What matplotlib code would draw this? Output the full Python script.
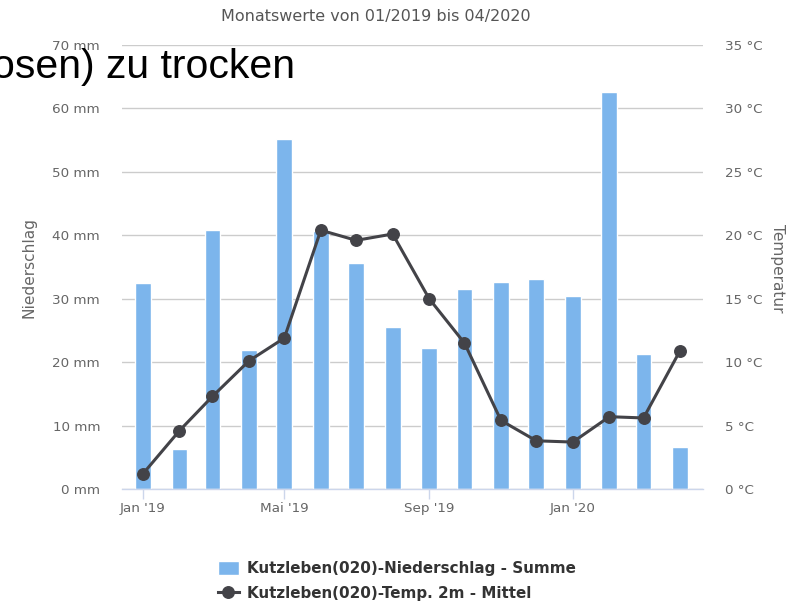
import matplotlib
matplotlib.use("Agg")
import matplotlib.pyplot as plt
import pandas as pd

# Monthly values Kutzleben, 01/2019 - 04/2020
months = pd.date_range("2019-01-01", "2020-04-01", freq="MS")
niederschlag = [32.4, 6.3, 40.8, 21.9, 55.2, 40.6, 35.7, 25.6,
                22.2, 31.6, 32.7, 33.1, 30.5, 62.6, 21.3, 6.7]
temperatur = [1.2, 4.6, 7.3, 10.1, 11.9, 20.4, 19.6, 20.1,
              15.0, 11.5, 5.4, 3.8, 3.7, 5.7, 5.6, 10.9]

tick_dates = pd.to_datetime(["2019-01-01", "2019-05-01", "2019-09-01", "2020-01-01"])
tick_labels = ["Jan '19", "Mai '19", "Sep '19", "Jan '20"]
mm_ticks = [0, 10, 20, 30, 40, 50, 60, 70]
c_ticks = [0, 5, 10, 15, 20, 25, 30, 35]

W, H = 791, 601
fig = plt.figure(figsize=(W / 100, H / 100), dpi=100)
plt.rcParams["font.family"] = "DejaVu Sans"

label_col = "#666666"
axis_col = "#ccd6eb"

ax = fig.add_axes([122 / W, (H - 489) / H, 581 / W, 444 / H])
ax2 = ax.twinx()

# precipitation bars
ax.bar(months, niederschlag, width=13.5, color="#7cb5ec",
       edgecolor="white", linewidth=1.0, zorder=2,
       label="Kutzleben(020)-Niederschlag - Summe")
ax.set_ylim(0, 70)
ax.set_yticks(mm_ticks)
ax.set_yticklabels([f"{v} mm" for v in mm_ticks])
ax.grid(axis="y", color="#cccccc", linewidth=1.0)
ax.set_axisbelow(True)

# temperature line
ax2.plot(months, temperatur, color="#434348", linewidth=2.2,
         marker="o", markersize=8.3, zorder=3,
         label="Kutzleben(020)-Temp. 2m - Mittel")
ax2.set_ylim(0, 35)
ax2.set_yticks(c_ticks)
ax2.set_yticklabels([f"{v} °C" for v in c_ticks])

ax.set_xlim(months[0] - pd.Timedelta(days=17.8),
            months[-1] + pd.Timedelta(days=19.5))
ax.set_xticks(tick_dates)
ax.set_xticklabels(tick_labels)

for a in (ax, ax2):
    for s in a.spines.values():
        s.set_visible(False)
ax.spines["bottom"].set_visible(True)
ax.spines["bottom"].set_color(axis_col)
ax.spines["bottom"].set_linewidth(1.0)

ax.tick_params(axis="x", length=7.5, width=1.0, color=axis_col,
               labelcolor=label_col, labelsize=9.7, pad=2)
ax.tick_params(axis="y", length=0, labelcolor=label_col, labelsize=9.7, pad=15.8)
ax2.tick_params(axis="y", length=0, labelcolor=label_col, labelsize=9.7, pad=15.8)

# axis titles and subtitle
fig.text(29 / W, (H - 267) / H, "Niederschlag", rotation=90, ha="center",
         va="center", fontsize=11.1, color=label_col)
fig.text(777 / W, (H - 268) / H, "Temperatur", rotation=270, ha="center",
         va="center", fontsize=11.1, color=label_col)
fig.text(376 / W, (H - 16) / H, "Monatswerte von 01/2019 bis 04/2020",
         ha="center", va="center", fontsize=11.5, color="#555555")

# legend
h1, l1 = ax.get_legend_handles_labels()
h2, l2 = ax2.get_legend_handles_labels()
fig.legend(h1 + h2, l1 + l2, loc="center", bbox_to_anchor=(397 / W, (H - 581) / H),
           frameon=False, prop={"weight": "bold", "size": 10.9},
           labelcolor="#333333", handlelength=1.35, handleheight=1.0,
           handletextpad=0.55, labelspacing=0.6, borderpad=0)

# overlapping text fragment from the page
fig.text(-8 / W, (H - 78) / H, "osen) zu trocken", fontsize=29.5,
         family="Liberation Sans", color="black", va="baseline", ha="left")

fig.savefig("out.png", dpi=100)
